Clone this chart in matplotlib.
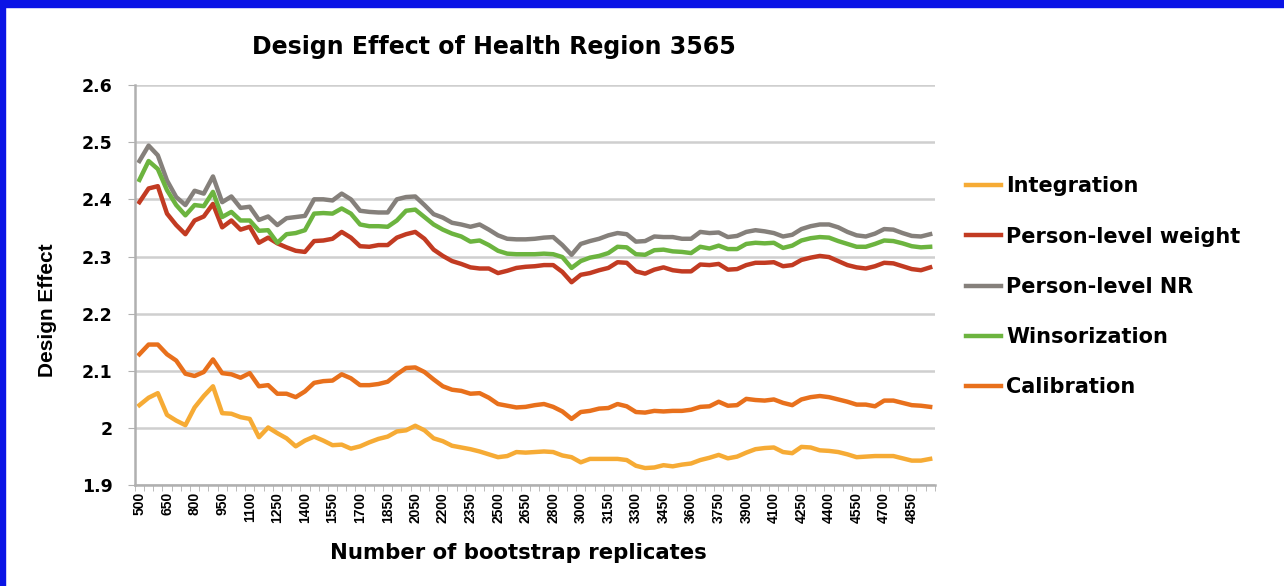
import matplotlib.pyplot as plt
from matplotlib.patches import Rectangle

plt.rcParams['font.family'] = ['DejaVu Sans']
plt.rcParams['font.weight'] = 'bold'

# bootstrap replicate counts (categories); three counts are absent from the table
missing = [1950, 2900, 4000]
replicates = [r for r in range(500, 5000, 50) if r not in missing]

integration = [2.040, 2.053, 2.061, 2.023, 2.013, 2.005, 2.036, 2.056, 2.073, 2.026,
               2.025, 2.019, 2.016, 1.984, 2.001, 1.991, 1.982, 1.968, 1.978,
               1.985, 1.978, 1.970, 1.971, 1.964, 1.968, 1.975, 1.981, 1.985, 1.994,
               1.996, 2.004, 1.996, 1.982, 1.977, 1.969, 1.966, 1.963, 1.959, 1.954,
               1.949, 1.951, 1.958, 1.957, 1.958, 1.959, 1.958, 1.952, 1.949,
               1.940, 1.946, 1.946, 1.946, 1.946, 1.944, 1.934, 1.930, 1.931, 1.935,
               1.933, 1.936, 1.938, 1.944, 1.948, 1.953, 1.947, 1.950, 1.957, 1.963,
               1.965, 1.966, 1.958, 1.956, 1.967, 1.966, 1.961, 1.960, 1.958,
               1.954, 1.949, 1.950, 1.951, 1.951, 1.951, 1.947, 1.943, 1.943, 1.946]

person_weight = [2.395, 2.419, 2.423, 2.375, 2.355, 2.339, 2.363, 2.370, 2.392, 2.351,
                 2.363, 2.347, 2.352, 2.324, 2.333, 2.323, 2.316, 2.310, 2.308,
                 2.327, 2.328, 2.331, 2.343, 2.333, 2.318, 2.317, 2.320, 2.320, 2.333,
                 2.339, 2.343, 2.331, 2.312, 2.301, 2.292, 2.287, 2.281, 2.279, 2.279,
                 2.271, 2.275, 2.280, 2.282, 2.283, 2.285, 2.285, 2.273, 2.255,
                 2.268, 2.271, 2.276, 2.280, 2.290, 2.289, 2.274, 2.270, 2.277, 2.281,
                 2.276, 2.274, 2.274, 2.286, 2.285, 2.287, 2.277, 2.278, 2.285, 2.289,
                 2.289, 2.290, 2.283, 2.285, 2.294, 2.298, 2.301, 2.299, 2.292,
                 2.285, 2.281, 2.279, 2.283, 2.289, 2.288, 2.283, 2.278, 2.276, 2.281]

person_nr = [2.467, 2.494, 2.477, 2.433, 2.404, 2.390, 2.415, 2.410, 2.440, 2.395,
             2.405, 2.385, 2.387, 2.364, 2.370, 2.355, 2.367, 2.369, 2.371,
             2.400, 2.400, 2.398, 2.410, 2.400, 2.380, 2.378, 2.377, 2.377, 2.400,
             2.404, 2.405, 2.390, 2.374, 2.368, 2.359, 2.356, 2.352, 2.356, 2.347,
             2.337, 2.331, 2.330, 2.330, 2.331, 2.333, 2.334, 2.320, 2.303,
             2.322, 2.327, 2.331, 2.337, 2.341, 2.339, 2.326, 2.327, 2.335, 2.334,
             2.334, 2.331, 2.331, 2.343, 2.341, 2.342, 2.334, 2.336, 2.343, 2.346,
             2.344, 2.341, 2.335, 2.338, 2.348, 2.353, 2.356, 2.356, 2.351,
             2.343, 2.337, 2.335, 2.340, 2.348, 2.347, 2.341, 2.336, 2.335, 2.339]

winsorization = [2.434, 2.467, 2.453, 2.416, 2.390, 2.372, 2.390, 2.388, 2.413, 2.369,
                 2.378, 2.363, 2.363, 2.345, 2.346, 2.324, 2.339, 2.341, 2.346,
                 2.375, 2.376, 2.375, 2.384, 2.375, 2.356, 2.353, 2.353, 2.352, 2.363,
                 2.380, 2.382, 2.369, 2.356, 2.347, 2.340, 2.335, 2.326, 2.328, 2.320,
                 2.310, 2.305, 2.304, 2.304, 2.304, 2.305, 2.304, 2.299, 2.280,
                 2.292, 2.298, 2.301, 2.306, 2.317, 2.316, 2.304, 2.303, 2.311, 2.312,
                 2.309, 2.308, 2.306, 2.317, 2.314, 2.319, 2.313, 2.313, 2.322, 2.324,
                 2.323, 2.324, 2.315, 2.319, 2.328, 2.332, 2.334, 2.333, 2.327,
                 2.322, 2.317, 2.317, 2.322, 2.328, 2.327, 2.323, 2.318, 2.316, 2.317]

calibration = [2.129, 2.146, 2.146, 2.129, 2.118, 2.095, 2.091, 2.098, 2.120, 2.096,
               2.094, 2.088, 2.096, 2.073, 2.075, 2.060, 2.060, 2.054, 2.064,
               2.079, 2.082, 2.083, 2.094, 2.087, 2.075, 2.075, 2.077, 2.081, 2.094,
               2.105, 2.106, 2.098, 2.085, 2.073, 2.067, 2.065, 2.060, 2.061, 2.053,
               2.042, 2.039, 2.036, 2.037, 2.040, 2.042, 2.037, 2.029, 2.016,
               2.028, 2.030, 2.034, 2.035, 2.042, 2.038, 2.028, 2.027, 2.030, 2.029,
               2.030, 2.030, 2.032, 2.037, 2.038, 2.046, 2.039, 2.040, 2.051, 2.049,
               2.048, 2.050, 2.044, 2.040, 2.050, 2.054, 2.056, 2.054, 2.050,
               2.046, 2.041, 2.041, 2.038, 2.048, 2.048, 2.044, 2.040, 2.039, 2.037]

labels = ['Integration', 'Person-level weight', 'Person-level NR', 'Winsorization', 'Calibration']
colors = ['#f6ab35', '#c23b22', '#85807b', '#6cb43f', '#e8701c']
series = [integration, person_weight, person_nr, winsorization, calibration]

fig = plt.figure(figsize=(12.84, 5.86), dpi=100)
ax = fig.add_axes([0.105, 0.172, 0.623, 0.683])

x = range(len(replicates))
for s, c, lab in zip(series, colors, labels):
    ax.plot(x, s, c=c, lw=3.2, label=lab, solid_joinstyle='round')

ax.set_xlim(-0.5, len(replicates) - 0.5)
ax.set_ylim(1.9, 2.6)
ax.set_yticks([1.9, 2.0, 2.1, 2.2, 2.3, 2.4, 2.5, 2.6])
ax.set_yticklabels(['1.9', '2', '2.1', '2.2', '2.3', '2.4', '2.5', '2.6'], fontsize=12.5, fontweight='bold')
ax.set_xticks(list(x)[::3])
ax.set_xticklabels([str(r) for r in replicates[::3]], rotation=90, fontsize=10,
                   fontweight='bold', family='Liberation Sans')
ax.set_xticks([i - 0.5 for i in range(len(replicates) + 1)], minor=True)
ax.tick_params(axis='x', which='major', length=0, pad=5)
ax.tick_params(axis='x', which='minor', length=4, color='#b0b0b0')
ax.tick_params(axis='y', length=5, color='#b0b0b0', pad=11)

ax.grid(axis='y', color='#cfcfcf', lw=1.8)
ax.set_axisbelow(True)
for side in ['top', 'right']:
    ax.spines[side].set_visible(False)
for side in ['left', 'bottom']:
    ax.spines[side].set_color('#b0b0b0')
    ax.spines[side].set_linewidth(1.8)

ax.set_xlabel('Number of bootstrap replicates', fontsize=15.3, fontweight='bold')
ax.xaxis.set_label_coords(0.48, -0.145)
ax.set_ylabel('Design Effect', fontsize=15, fontweight='bold', family='Liberation Sans')
ax.yaxis.set_label_coords(-0.0975, 0.4375)
fig.text(0.385, 0.92, 'Design Effect of Health Region 3565', ha='center', va='center',
         fontsize=17, fontweight='bold')

ax.legend(loc='upper left', bbox_to_anchor=(0.738, 0.731), bbox_transform=fig.transFigure,
          frameon=False, fontsize=15, handlelength=1.65, labelspacing=1.45, handletextpad=0.25)

# blue frame around the picture
fig.add_artist(Rectangle((0, 1 - 7 / 586), 1, 7 / 586, transform=fig.transFigure, color='#0a14e6'))
fig.add_artist(Rectangle((0, 0), 5 / 1284, 1, transform=fig.transFigure, color='#0a14e6'))

fig.savefig('out.png', dpi=100)
